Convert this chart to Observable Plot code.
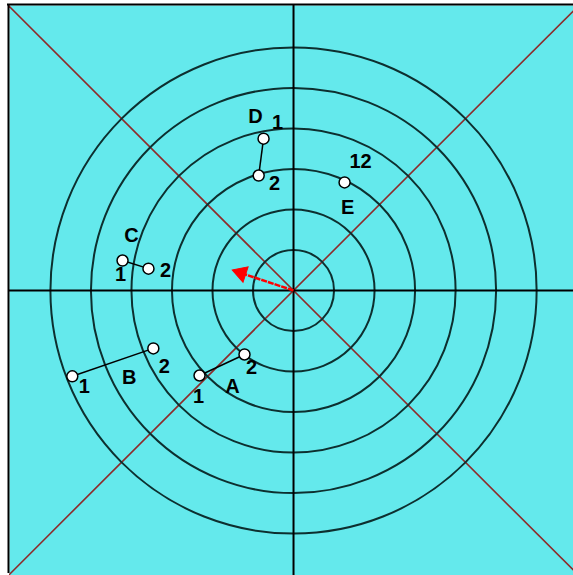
<!DOCTYPE html>
<html>
<head>
<meta charset="utf-8">
<script src="https://cdn.jsdelivr.net/npm/d3@7"></script>
<script src="https://cdn.jsdelivr.net/npm/@observablehq/plot@0.6"></script>
<style>
  html, body { margin: 0; padding: 0; background: white; }
  #chart svg { display: block; }
</style>
</head>
<body>
<div id="chart"></div>
<script>
// ---- data (units = ring spacing) ----
const rings = [1, 2, 3, 4, 5, 6];
const pointIds = ["A1", "A2", "B1", "B2", "C1", "C2", "D1", "D2", "E"];
const pointX = [-2.32, -1.21, -5.46, -3.46, -4.22, -3.58, -0.74, -0.86, 1.26];
const pointY = [-2.10, -1.58, -2.12, -1.43, 0.74, 0.54, 3.75, 2.84, 2.67];
const pairNames = ["A", "B", "C", "D"];
const letterNames = ["A", "B", "C", "D", "E"];
const numberLabels = ["1", "2", "1", "2", "1", "2", "1", "2", "12"];
const arrowX = [-1.41];
const arrowY = [0.47];

// ---- layout ----
const W = 573, H = 575, mL = 9, mT = 5;
const xDomain = [-7.01, 6.91];
const yDomain = [-7.04, 7.04];
const unit = (W - mL) / (xDomain[1] - xDomain[0]);

const points = pointIds.map((id, i) => ({id, x: pointX[i], y: pointY[i], label: numberLabels[i]}));
const byId = Object.fromEntries(points.map(p => [p.id, p]));
const segments = pairNames.map(n => ({a: byId[n + "1"], b: byId[n + "2"]}));
const letters = letterNames.map(n => ({name: n, p: byId[n + "1"] || byId[n]}));
const arrows = arrowX.map((x, i) => ({x, y: arrowY[i], angle: Math.atan2(x, arrowY[i]) * 180 / Math.PI}));
// pull the head back so its tip sits on the arrow end
const a0 = arrows[0], len0 = Math.hypot(a0.x, a0.y);
const headDx = -(a0.x / len0) * 5, headDy = (a0.y / len0) * 5;

// label offsets (px)
const numOff = {A1: [-1, 21], A2: [7, 13], B1: [12, 10], B2: [11, 18], C1: [-2, 14], C2: [17, 2], D1: [14, -16], D2: [16, 8], E: [16, -21]};
const letOff = {A: [33, 11], B: [57, 1], C: [9, -25], D: [-8, -22], E: [3, 25]};

const ext = 7.2;
const diag = [{x1: -ext, y1: -ext, x2: ext, y2: ext}, {x1: -ext, y1: ext, x2: ext, y2: -ext}];
const font = "'Liberation Sans', Arial, sans-serif";

const marks = [
  Plot.frame({fill: "url(#chk)", stroke: "none"}),
  Plot.link(diag, {x1: "x1", y1: "y1", x2: "x2", y2: "y2", stroke: "#8e2a2a", strokeWidth: 1.6, clip: true}),
  Plot.dot(rings, {x: () => 0, y: () => 0, r: d => d, fill: "none", stroke: "#0d2f2f", strokeWidth: 2}),
  Plot.ruleX([0], {stroke: "black", strokeWidth: 2}),
  Plot.ruleY([0], {stroke: "black", strokeWidth: 2}),
  Plot.ruleX([xDomain[0]], {stroke: "black", strokeWidth: 2, dx: -1, y1: yDomain[0], y2: yDomain[1], insetTop: -2}),
  Plot.ruleY([yDomain[1]], {stroke: "black", strokeWidth: 2, dy: -1, insetLeft: -2}),
  Plot.link(segments, {x1: d => d.a.x, y1: d => d.a.y, x2: d => d.b.x, y2: d => d.b.y, stroke: "black", strokeWidth: 1.5}),
  Plot.link(arrows, {x1: () => 0, y1: () => 0, x2: "x", y2: "y", stroke: "#ff0000", strokeWidth: 2.5, strokeDasharray: "6,1"}),
  Plot.dot(arrows, {x: "x", y: "y", dx: headDx, dy: headDy, symbol: "triangle", r: 6, rotate: "angle", fill: "#ff0000", stroke: "#ff0000", strokeWidth: 1}),
  Plot.dot(points, {x: "x", y: "y", r: 5.5, fill: "white", stroke: "black", strokeWidth: 1.5}),
  ...points.map(p => Plot.text([p], {x: "x", y: "y", text: "label", dx: numOff[p.id][0], dy: numOff[p.id][1], fontSize: 20, fontWeight: "bold", fontFamily: font, fill: "black"})),
  ...letters.map(l => Plot.text([l], {x: d => d.p.x, y: d => d.p.y, text: "name", dx: letOff[l.name][0], dy: letOff[l.name][1], fontSize: 20, fontWeight: "bold", fontFamily: font, fill: "black"}))
];

const svg = Plot.plot({
  width: W, height: H,
  marginLeft: mL, marginTop: mT, marginRight: 0, marginBottom: 0,
  x: {domain: xDomain, axis: null},
  y: {domain: yDomain, axis: null},
  r: {type: "linear", domain: [0, 6], range: [0, 6 * unit]},
  style: {background: "white", overflow: "hidden"},
  marks
});

const defs = d3.select(svg).insert("defs", ":first-child");
const pat = defs.append("pattern").attr("id", "chk").attr("patternUnits", "userSpaceOnUse")
  .attr("width", 2).attr("height", 2);
pat.append("rect").attr("width", 2).attr("height", 2).attr("fill", "#00ffff");
pat.append("rect").attr("x", 1).attr("y", 0).attr("width", 1).attr("height", 1).attr("fill", "#c8d2d8");
pat.append("rect").attr("x", 0).attr("y", 1).attr("width", 1).attr("height", 1).attr("fill", "#c8d2d8");

document.getElementById("chart").appendChild(svg);
</script>
</body>
</html>
